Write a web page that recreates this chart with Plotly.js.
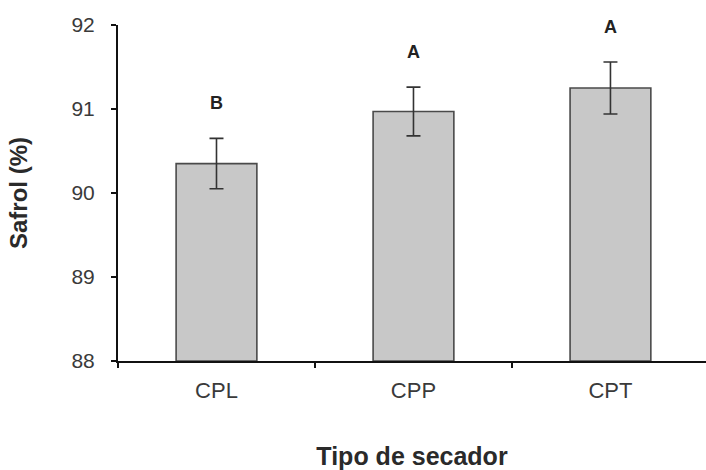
<!DOCTYPE html>
<html>
<head>
<meta charset="utf-8">
<script src="https://cdn.plot.ly/plotly-3.0.1.min.js"></script>
<style>html,body{margin:0;padding:0;background:#fff;}#chart{width:706px;height:470px;}</style>
</head>
<body>
<div id="chart"></div>
<script>
const categories = ["CPL", "CPP", "CPT"];
const safrol = [90.35, 90.97, 91.25];
const errors = [0.30, 0.29, 0.31];
const letters = ["B", "A", "A"];
const yTicks = [88, 89, 90, 91, 92];

const FONT = "Liberation Sans, Arial, sans-serif";

const trace = {
  type: "bar",
  x: categories,
  y: safrol.map(function(v){return v - 88;}),
  base: 88,
  width: 0.41,
  marker: {color: "#c8c8c8", line: {color: "#4a4a4a", width: 1.6}},
  error_y: {type: "data", array: errors, visible: true, color: "#333333", thickness: 1.6, width: 7},
  hoverinfo: "skip"
};

const annotations = categories.map(function(c, i){
  return {x: c, y: safrol[i] + errors[i], xref: "x", yref: "y", text: "<b>" + letters[i] + "</b>",
    showarrow: false, yshift: 35, font: {family: FONT, size: 18, color: "#222"}};
});

const layout = {
  width: 706, height: 470,
  margin: {l: 118, r: 0, t: 25, b: 109},
  paper_bgcolor: "#ffffff", plot_bgcolor: "#ffffff",
  showlegend: false,
  font: {family: FONT, color: "#3a3a3a"},
  xaxis: {
    type: "category", range: [-0.5, 2.485],
    showline: true, linecolor: "#111", linewidth: 2,
    ticks: "outside", tickson: "boundaries", ticklen: 5, tickwidth: 2, tickcolor: "#111",
    showgrid: false, zeroline: false,
    tickfont: {family: FONT, size: 22, color: "#3a3a3a"},
    ticklabelstandoff: 9,
    title: {text: "<b>Tipo de secador</b>", font: {family: FONT, size: 25, color: "#2a2a2a"}, standoff: 47}
  },
  yaxis: {
    range: [88, 92], tickvals: yTicks, ticktext: yTicks.map(String),
    showline: true, linecolor: "#111", linewidth: 2,
    ticks: "outside", ticklen: 5, tickwidth: 2, tickcolor: "#111",
    showgrid: false, zeroline: false,
    tickfont: {family: FONT, size: 21, color: "#3a3a3a"},
    ticklabelstandoff: 12,
    title: {text: "<b>Safrol (%)</b>", font: {family: FONT, size: 24, color: "#2a2a2a"}, standoff: 37}
  },
  annotations: annotations
};

Plotly.newPlot("chart", [trace], layout, {displayModeBar: false, staticPlot: true});
</script>
</body>
</html>
